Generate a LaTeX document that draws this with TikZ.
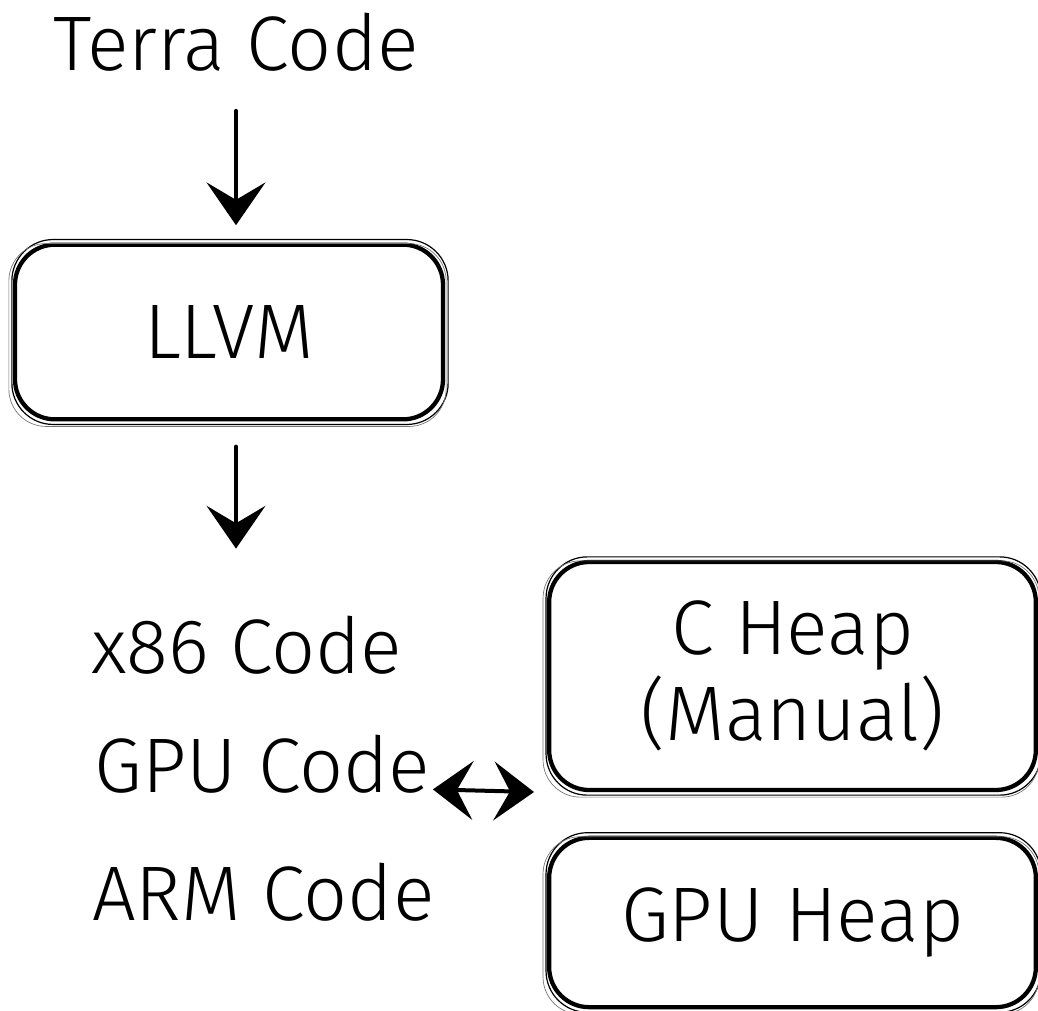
\documentclass[tikz,border=0pt]{standalone}
\usepackage{fontspec}
\setmainfont{Fira Sans}[UprightFont = * Light]
\usetikzlibrary{arrows.meta}

\tikzset{
  label/.style={inner sep=0pt, font=\fontsize{58}{66}\selectfont},
  heapbox/.style={draw=black, line width=3.2pt, rounded corners=30pt, inner sep=0pt,
    align=center, font=\fontsize{58}{64}\selectfont},
  sketch/.style={draw=black, line width=0.9pt, rounded corners=31pt},
  sketchfaint/.style={draw=black!55, line width=0.5pt, rounded corners=28pt},
  flow/.style={line width=3.4pt, line cap=round,
    -{Stealth[length=32pt, width=44pt, inset=13pt]}},
  both/.style={line width=3pt, line cap=round,
    {Stealth[length=30pt, width=44pt, inset=12pt]}-{Stealth[length=30pt, width=44pt, inset=12pt]}},
}

\begin{document}
\begin{tikzpicture}[x=0.75pt, y=-0.75pt]
  \useasboundingbox (0,0) rectangle (1038,1010);

  % source and compiler
  \node[label, anchor=base] (terra) at (236,70) {Terra Code};
  \node[heapbox, minimum width=321pt, minimum height=131pt] (llvm) at (229,332) {LLVM};

  % generated code
  \node[label, anchor=base west] (x86) at (91,673) {x86 Code};
  \node[label, anchor=base west] (gpu) at (94,792) {GPU Code};
  \node[label, anchor=base west] (arm) at (92,920) {ARM Code};

  % memory
  \node[heapbox, minimum width=365pt, minimum height=171pt] (cheap) at (792.5,676) {C Heap\\(Manual)};
  \node[heapbox, minimum width=365pt, minimum height=127pt] (gheap) at (792.5,922.5) {GPU Heap};
  \coordinate (gap) at (534,800);

  % extra hand-drawn strokes round the boxes
  \foreach \b in {llvm, cheap, gheap} {
    \draw[sketch] ([shift={(-1,-3)}]\b.north west) rectangle ([shift={(3,3)}]\b.south east);
    \draw[sketchfaint] ([shift={(-4,1)}]\b.north west) rectangle ([shift={(1,5)}]\b.south east);
  }

  % connectors
  \draw[flow, shorten <=30pt, shorten >=13pt] (terra.south) -- (terra.south |- llvm.north);
  \draw[flow, shorten <=19pt, shorten >=50pt] (terra.south |- llvm.south) -- (terra.south |- x86.north);
  \draw[both, shorten <=2pt] ([yshift=2]gpu.base east) -- (gpu.base east -| gap);
\end{tikzpicture}
\end{document}
